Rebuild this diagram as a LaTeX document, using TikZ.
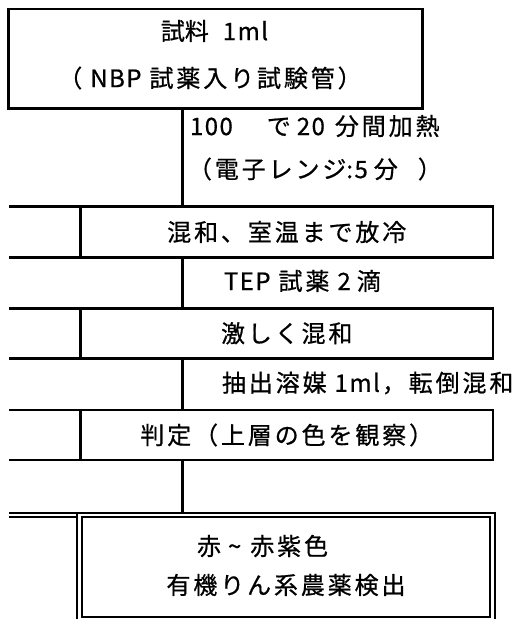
\documentclass[tikz,border=0pt]{standalone}
\usepackage{fontspec}
\newfontfamily\jpt[LetterSpace=12,FakeBold=0.7]{Noto Sans CJK JP}
\newfontfamily\jpn[FakeBold=0.7]{Noto Sans CJK JP}
\newfontfamily\jpl[LetterSpace=6,FakeBold=0.7]{Noto Sans CJK JP}
\newcommand\lat[1]{{\jpl #1}}
\newcommand\gap[1]{\hspace*{#1pt}}
\begin{document}
\begin{tikzpicture}[x=1pt,y=-1pt,
  every node/.style={inner sep=0pt, outer sep=0pt},
  txt/.style={font=\jpt\fontsize{24}{28}\selectfont},
  txtn/.style={font=\jpn\fontsize{24}{28}\selectfont},
  frame/.style={draw, line width=2.7pt},
  conn/.style={line width=2.7pt},
  dbl/.style={line width=2pt, double, double distance=2.5pt},
  dblframe/.style={draw, dbl}]
\useasboundingbox (0,0) rectangle (518,619);
\coordinate (spine) at (182.5,0);
\coordinate (lft) at (8.5,0);

% top box
\node[frame, minimum width=414pt, minimum height=99.5pt] (b1) at (215.5,58.75) {};
\node[txtn] (t1) at (214.5,31) {試料\gap{14}\lat{1ml}};
\node[txt] (t2) at (210,78) {（\gap{8}\lat{NBP}\gap{8}試薬入り試験管）};

% process boxes
\node[frame, txt, minimum width=412.5pt, minimum height=51pt] (b2) at (286.75,232) {混和、室温まで放冷};
\node[frame, txt, minimum width=412.5pt, minimum height=50pt] (b3) at (286.75,333.3) {激しく混和};
\node[frame, txt, minimum width=412.5pt, minimum height=50pt] (b4) at (286.75,435) {判定（上層の色を観察）};

% left extensions
\draw[conn] (b2.north west) -- (b2.north west -| lft);
\draw[conn] (b2.south west) -- (b2.south west -| lft);
\draw[conn] (b3.north west) -- (b3.north west -| lft);
\draw[conn] (b3.south west) -- (b3.south west -| lft);
\draw[conn] (b4.north west) -- (b4.north west -| lft);
\draw[conn] (b4.south west) -- (b4.south west -| lft);

% spine connectors
\draw[conn] (b1.south -| spine) -- (b2.north -| spine);
\draw[conn] (b2.south -| spine) -- (b3.north -| spine);
\draw[conn] (b3.south -| spine) -- (b4.north -| spine);
\coordinate (finc) at (286.1,567);
\coordinate (finnw) at (79.75,514.75);
\draw[conn] (b4.south -| spine) -- (spine |- finnw);
\draw[dbl] (finnw) -- (finnw -| lft);
\node[dblframe, minimum width=412.75pt, minimum height=104.5pt] (fin) at (finc) {};
\node[txt, anchor=west] (f1) at (197,546) {赤\gap{7}{\jpn\textasciitilde}\gap{9}赤紫色};
\node[txt] (f2) at (286,585) {有機りん系農薬検出};

% step labels
\node[txt, anchor=west] (h1) at (190,126) {\lat{100}\gap{34}で\gap{6}\lat{20}\gap{10}分間加熱};
\node[txt, anchor=west] (h2) at (188,169) {（電子レンジ\lat{:5}\gap{6}分\gap{20}）};
\node[txt, anchor=west] (h3) at (224,281) {\lat{TEP}\gap{8}試薬\gap{8}\lat{2}\gap{6}滴};
\node[txt, anchor=west] (h4) at (222,383) {抽出溶媒\gap{8}\lat{1ml}\gap{2}，転倒混和};
\end{tikzpicture}
\end{document}
